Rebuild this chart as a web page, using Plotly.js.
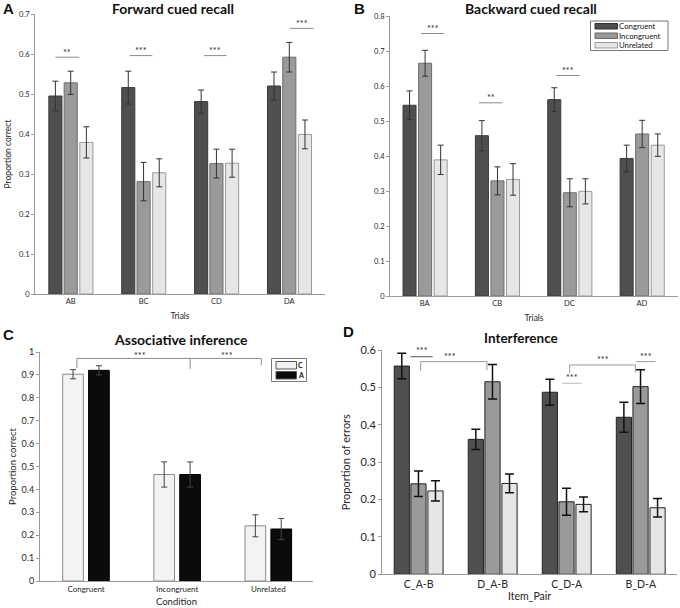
<!DOCTYPE html>
<html>
<head>
<meta charset="utf-8">
<script src="https://cdn.plot.ly/plotly-3.0.1.min.js"></script>
<style>html,body{margin:0;padding:0;background:#fff;}#chart{width:680px;height:608px;}</style>
</head>
<body>
<div id="chart"></div>
<script>
// ---------- DATA ----------
const forwardTrials = ['AB','BC','CD','DA'];
const forwardCongruent = [0.495,0.516,0.481,0.520];
const forwardCongruentErr = [0.037,0.041,0.029,0.035];
const forwardIncongruent = [0.528,0.281,0.326,0.592];
const forwardIncongruentErr = [0.029,0.048,0.036,0.037];
const forwardUnrelated = [0.379,0.303,0.327,0.399];
const forwardUnrelatedErr = [0.039,0.035,0.035,0.036];

const backwardTrials = ['BA','CB','DC','AD'];
const backwardCongruent = [0.545,0.458,0.561,0.393];
const backwardCongruentErr = [0.041,0.043,0.034,0.038];
const backwardIncongruent = [0.665,0.329,0.295,0.463];
const backwardIncongruentErr = [0.037,0.040,0.040,0.039];
const backwardUnrelated = [0.389,0.333,0.299,0.431];
const backwardUnrelatedErr = [0.042,0.045,0.036,0.032];

const inferenceConditions = ['Congruent','Incongruent','Unrelated'];
const inferenceC = [0.903,0.465,0.241];
const inferenceCErr = [0.020,0.055,0.048];
const inferenceA = [0.920,0.465,0.227];
const inferenceAErr = [0.020,0.055,0.046];

const itemPairs = ['C_A-B','D_A-B','C_D-A','B_D-A'];
const interfCongruent = [0.557,0.361,0.487,0.420];
const interfCongruentErr = [0.034,0.027,0.035,0.040];
const interfIncongruent = [0.242,0.515,0.194,0.502];
const interfIncongruentErr = [0.034,0.046,0.036,0.045];
const interfUnrelated = [0.223,0.243,0.187,0.178];
const interfUnrelatedErr = [0.027,0.025,0.020,0.025];

const seriesNames = ['Congruent','Incongruent','Unrelated'];
const inferenceNames = ['C','A'];

// ---------- STYLE ----------
const COL_CONG = '#4f4f4f', COL_INC = '#9a9a9a', COL_UNR = '#e6e6e6';
const COL_C = '#f3f3f3', COL_A = '#0b0b0b';
const FONT = 'Lato, "Open Sans", sans-serif';
const TXT = '#262626';
const W = 680, H = 608;
const px = v => v / W, py = v => 1 - v / H;

function barTrace(x, y, err, name, color, lineColor, xa, ya, width, offset, errW, errCap, errColor) {
  return {
    type: 'bar', x: x, y: y, name: name, xaxis: xa, yaxis: ya,
    width: width, offset: offset, showlegend: false,
    marker: {color: color, line: {color: lineColor, width: 1}},
    error_y: {type: 'data', array: err, visible: true, thickness: errW, width: errCap, color: errColor},
    hoverinfo: 'skip'
  };
}

const data = [
  // A
  barTrace(forwardTrials, forwardCongruent, forwardCongruentErr, seriesNames[0], COL_CONG, '#3a3a3a', 'x', 'y', 0.18, -0.30, 1, 3, '#333'),
  barTrace(forwardTrials, forwardIncongruent, forwardIncongruentErr, seriesNames[1], COL_INC, '#6e6e6e', 'x', 'y', 0.18, -0.09, 1, 3, '#333'),
  barTrace(forwardTrials, forwardUnrelated, forwardUnrelatedErr, seriesNames[2], COL_UNR, '#9a9a9a', 'x', 'y', 0.18, 0.125, 1, 3, '#333'),
  // B
  barTrace(backwardTrials, backwardCongruent, backwardCongruentErr, seriesNames[0], COL_CONG, '#3a3a3a', 'x2', 'y2', 0.18, -0.30, 1, 3, '#333'),
  barTrace(backwardTrials, backwardIncongruent, backwardIncongruentErr, seriesNames[1], COL_INC, '#6e6e6e', 'x2', 'y2', 0.18, -0.085, 1, 3, '#333'),
  barTrace(backwardTrials, backwardUnrelated, backwardUnrelatedErr, seriesNames[2], COL_UNR, '#9a9a9a', 'x2', 'y2', 0.18, 0.13, 1, 3, '#333'),
  // C
  barTrace(inferenceConditions, inferenceC, inferenceCErr, inferenceNames[0], COL_C, '#8a8a8a', 'x3', 'y3', 0.227, -0.256, 1, 3, '#444'),
  barTrace(inferenceConditions, inferenceA, inferenceAErr, inferenceNames[1], COL_A, '#000', 'x3', 'y3', 0.227, 0.028, 1, 3, '#444'),
  // D
  barTrace(itemPairs, interfCongruent, interfCongruentErr, seriesNames[0], COL_CONG, '#222', 'x4', 'y4', 0.205, -0.33, 1.5, 4.5, '#111'),
  barTrace(itemPairs, interfIncongruent, interfIncongruentErr, seriesNames[1], COL_INC, '#222', 'x4', 'y4', 0.205, -0.105, 1.5, 4.5, '#111'),
  barTrace(itemPairs, interfUnrelated, interfUnrelatedErr, seriesNames[2], COL_UNR, '#222', 'x4', 'y4', 0.205, 0.125, 1.5, 4.5, '#111')
];

// ---------- annotations / shapes ----------
const shapes = [];
const annotations = [];
function seg(xr, yr, x0, y0, x1, y1, color, w) {
  shapes.push({type: 'line', xref: xr, yref: yr, x0: x0, y0: y0, x1: x1, y1: y1, line: {color: color, width: w || 1}});
}
function stars(xr, yr, x, y, txt, size) {
  annotations.push({xref: xr, yref: yr, x: x, y: y, text: txt, showarrow: false, xanchor: 'center', yanchor: 'bottom',
    font: {family: FONT, size: size || 9, color: TXT}, borderpad: 0});
}
// Panel A significance
seg('x','y',-0.21,0.592,0.12,0.592,'#8c8c8c'); stars('x','y',-0.05,0.588,'**');
seg('x','y',0.81,0.596,1.12,0.596,'#8c8c8c'); stars('x','y',0.965,0.592,'***');
seg('x','y',1.83,0.596,2.14,0.596,'#8c8c8c'); stars('x','y',1.985,0.592,'***');
seg('x','y',3.01,0.664,3.33,0.664,'#8c8c8c'); stars('x','y',3.17,0.66,'***');
// Panel B significance
seg('x2','y2',-0.05,0.75,0.265,0.75,'#8c8c8c'); stars('x2','y2',0.11,0.746,'***');
seg('x2','y2',0.75,0.552,1.076,0.552,'#8c8c8c'); stars('x2','y2',0.91,0.548,'**');
seg('x2','y2',1.82,0.63,2.14,0.63,'#8c8c8c'); stars('x2','y2',1.98,0.626,'***');
// Panel C bracket
seg('x3','y3',-0.10,0.972,1.923,0.972,'#8c8c8c');
seg('x3','y3',-0.10,0.972,-0.10,0.93,'#8c8c8c');
seg('x3','y3',1.143,0.972,1.143,0.926,'#8c8c8c');
seg('x3','y3',1.923,0.972,1.923,0.943,'#8c8c8c');
stars('x3','y3',0.59,0.955,'***'); stars('x3','y3',1.55,0.955,'***');
// Panel D significance
seg('x4','y4',-0.11,0.582,0.19,0.582,'#555'); stars('x4','y4',0.045,0.58,'***');
seg('x4','y4',0.027,0.569,0.923,0.569,'#999');
seg('x4','y4',0.027,0.569,0.027,0.545,'#999');
seg('x4','y4',0.923,0.569,0.923,0.546,'#999');
stars('x4','y4',0.43,0.566,'***');
seg('x4','y4',1.94,0.511,2.2,0.511,'#bbb'); stars('x4','y4',2.065,0.508,'***');
seg('x4','y4',2.04,0.56,2.928,0.56,'#999');
seg('x4','y4',2.04,0.56,2.04,0.538,'#999');
seg('x4','y4',2.928,0.56,2.928,0.54,'#999');
stars('x4','y4',2.49,0.557,'***');
seg('x4','y4',2.94,0.569,3.2,0.569,'#999'); stars('x4','y4',3.068,0.566,'***');

// Panel titles and letters
function ptext(x, y, txt, size, bold, fam, xa) {
  annotations.push({xref: 'paper', yref: 'paper', x: px(x), y: py(y), text: bold ? '<b>' + txt + '</b>' : txt,
    showarrow: false, xanchor: xa || 'center', yanchor: 'middle', font: {family: fam || FONT, size: size, color: '#111'}});
}
ptext(172.5, 8, 'Forward cued recall', 14, true);
ptext(530.5, 8, 'Backward cued recall', 14, true);
ptext(180.8, 339, 'Associative inference', 14, true);
ptext(521, 337.5, 'Interference', 13.5, true);
ptext(1, 8, 'A', 15, true, 'Liberation Sans, Arial, sans-serif', 'left');
ptext(352, 8, 'B', 15, true, 'Liberation Sans, Arial, sans-serif', 'left');
ptext(1, 334, 'C', 15, true, 'Liberation Sans, Arial, sans-serif', 'left');
ptext(341, 331, 'D', 15, true, 'Liberation Sans, Arial, sans-serif', 'left');

// Manual legends (drawn in paper space)
function rect(x0, y0, x1, y1, fill, line) {
  shapes.push({type: 'rect', xref: 'paper', yref: 'paper', x0: px(x0), x1: px(x1), y0: py(y1), y1: py(y0),
    fillcolor: fill, line: {color: line, width: 1}});
}
function ltext(x, y, txt, size) {
  annotations.push({xref: 'paper', yref: 'paper', x: px(x), y: py(y), text: txt, showarrow: false,
    xanchor: 'left', yanchor: 'middle', font: {family: FONT, size: size, color: '#111'}, borderpad: 0});
}
rect(590.5, 21, 668, 50.5, 'rgba(0,0,0,0)', '#777');
const legendBColors = [COL_CONG, COL_INC, COL_UNR];
const legendBLines = ['#333', '#666', '#999'];
[23.5, 33, 42.5].forEach((y, i) => {
  rect(595, y, 617.5, y + 5.5, legendBColors[i], legendBLines[i]);
  ltext(618, y + 2.9, seriesNames[i], 7.8);
});
rect(271.5, 358.5, 306.5, 381.5, 'rgba(0,0,0,0)', '#777');
const legendCColors = [COL_C, COL_A];
[361.5, 371.5].forEach((y, i) => {
  rect(276, y, 296.5, y + 7.5, legendCColors[i], '#555');
  ltext(297, y + 3.9, '<b>' + inferenceNames[i] + '</b>', 7);
});

// ---------- axes ----------
function xax(domain, anchor, range, tsize, title, tfs, standoff) {
  return {domain: domain, anchor: anchor, type: 'category', range: range, showline: true, linecolor: '#9a9a9a', linewidth: 1,
    ticks: '', showgrid: false, zeroline: false, automargin: false, fixedrange: true,
    tickfont: {family: FONT, size: tsize, color: TXT},
    title: {text: title, font: {family: FONT, size: tfs, color: TXT}, standoff: standoff}};
}
function yax(domain, anchor, range, dtick, tsize, title, tfs, standoff) {
  return {domain: domain, anchor: anchor, range: range, dtick: dtick, showline: true, linecolor: '#9a9a9a', linewidth: 1,
    ticks: 'outside', ticklen: 3, tickcolor: '#9a9a9a', showgrid: false, zeroline: false, automargin: false, fixedrange: true,
    tickfont: {family: FONT, size: tsize, color: TXT},
    title: {text: title, font: {family: FONT, size: tfs, color: TXT}, standoff: standoff}};
}

const layout = {
  width: W, height: H,
  margin: {l: 0, r: 0, t: 0, b: 0},
  paper_bgcolor: '#fff', plot_bgcolor: 'rgba(0,0,0,0)',
  showlegend: false,
  barmode: 'group',
  font: {family: FONT, color: TXT},
  xaxis:  xax([px(35), px(325)], 'y', [-0.49, 3.49], 7.5, 'Trials', 8.5, 8),
  yaxis:  yax([py(294), py(14)], 'x', [0, 0.7], 0.1, 7.5, 'Proportion correct', 8.5, 6),
  xaxis2: xax([px(390), px(678)], 'y2', [-0.48, 3.5], 7.5, 'Trials', 8.5, 8),
  yaxis2: yax([py(296), py(16)], 'x2', [0, 0.8], 0.1, 7.5, '', 8, 4),
  xaxis3: xax([px(40), px(313)], 'y3', [-0.505, 2.49], 8, 'Condition', 9.5, 5),
  yaxis3: yax([py(581), py(352)], 'x3', [0, 1], 0.1, 9, 'Proportion correct', 9.5, 3),
  xaxis4: xax([px(382), px(677)], 'y4', [-0.495, 3.49], 10.5, 'Item_Pair', 10.5, 2),
  yaxis4: yax([py(574.3), py(350)], 'x4', [0, 0.6], 0.1, 11, 'Proportion of errors', 11, 7),
  shapes: shapes,
  annotations: annotations
};

Plotly.newPlot('chart', data, layout, {displayModeBar: false, staticPlot: true});
</script>
</body>
</html>
